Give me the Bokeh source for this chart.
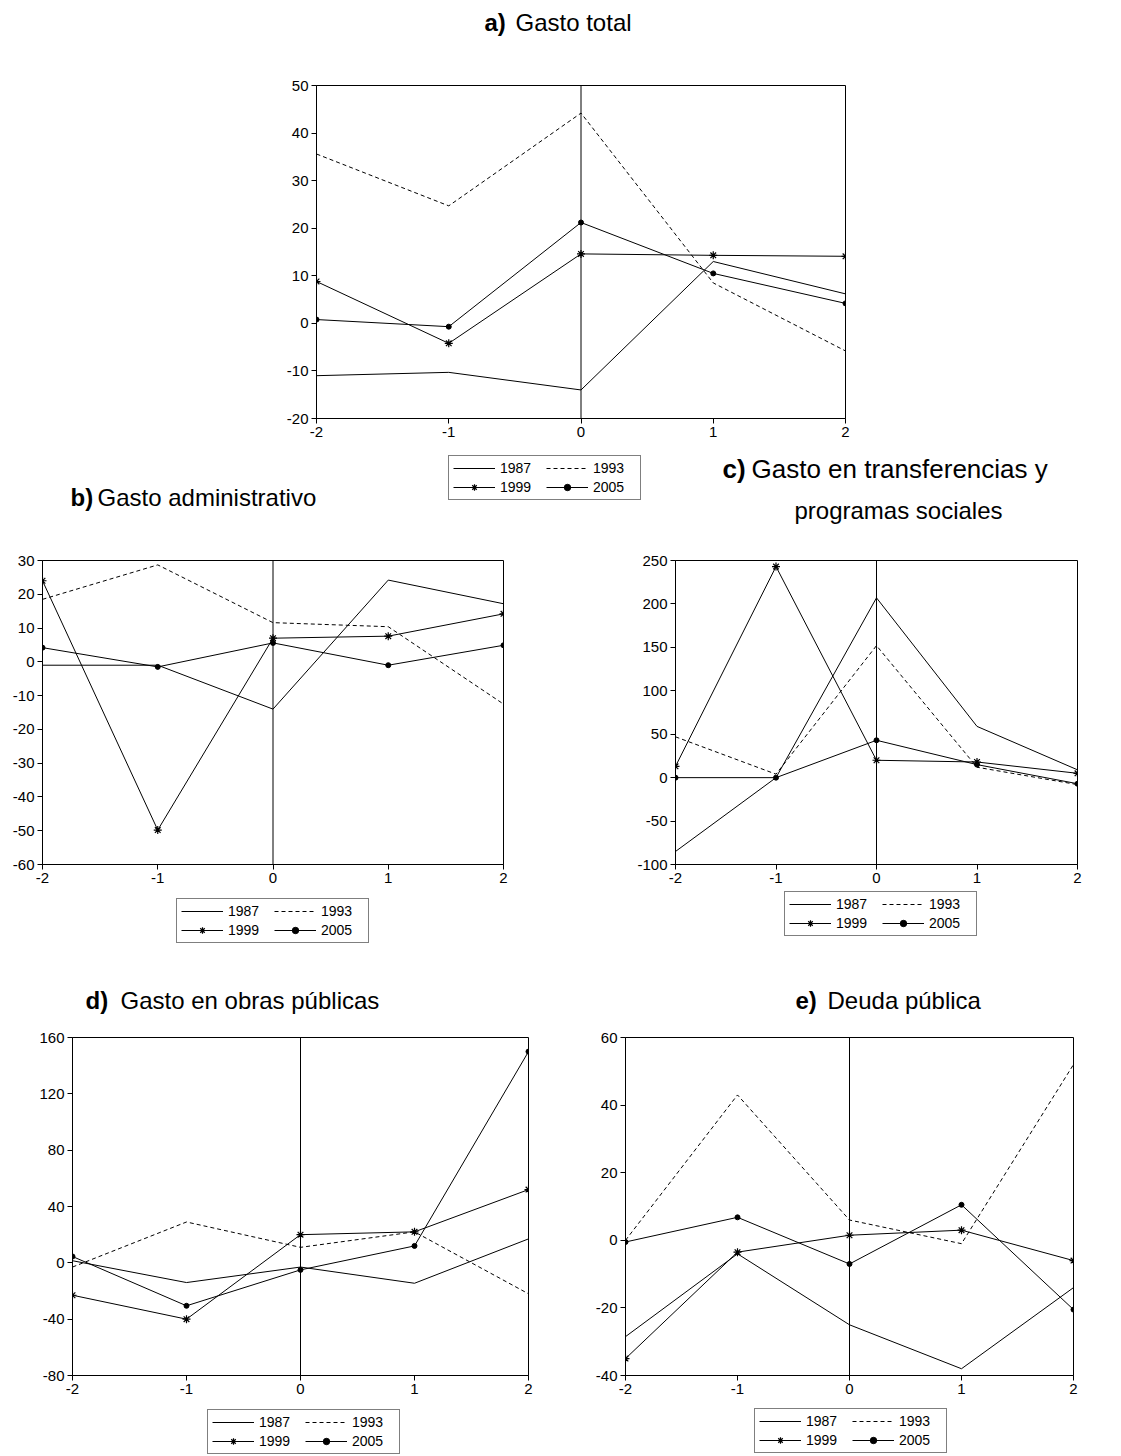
from bokeh.plotting import figure
from bokeh.models import (Range1d, FixedTicker, Span, Legend, LegendItem)
from bokeh.layouts import row
from bokeh.core.properties import value
from bokeh.embed import file_html
from bokeh.resources import INLINE

# ---------------- data ----------------
periods = [-2, -1, 0, 1, 2]
series_names = ["1987", "1993", "1999", "2005"]

# a) Gasto total
a_1987 = [-11.0, -10.3, -14.0, 13.0, 6.2]
a_1993 = [35.6, 24.7, 44.2, 8.5, -5.8]
a_1999 = [8.8, -4.2, 14.6, 14.3, 14.1]
a_2005 = [0.8, -0.7, 21.2, 10.5, 4.2]
a_yticks = [-20, -10, 0, 10, 20, 30, 40, 50]

# b) Gasto administrativo
b_1987 = [-1.0, -1.0, -14.0, 24.2, 17.2]
b_1993 = [18.5, 28.7, 11.6, 10.4, -12.5]
b_1999 = [24.0, -49.8, 7.0, 7.6, 14.2]
b_2005 = [4.2, -1.5, 5.6, -1.0, 4.9]
b_yticks = [-60, -50, -40, -30, -20, -10, 0, 10, 20, 30]

# c) Gasto en transferencias y programas sociales
c_1987 = [-85.0, 0.0, 207.0, 59.0, 9.0]
c_1993 = [47.0, 4.0, 152.0, 12.0, -8.0]
c_1999 = [13.0, 243.0, 20.0, 18.0, 5.0]
c_2005 = [0.0, 0.0, 43.0, 15.0, -7.0]
c_yticks = [-100, -50, 0, 50, 100, 150, 200, 250]

# d) Gasto en obras públicas
d_1987 = [1.5, -14.0, -3.0, -14.5, 17.0]
d_1993 = [-3.0, 29.0, 11.0, 22.0, -22.0]
d_1999 = [-23.0, -40.0, 20.0, 22.0, 52.0]
d_2005 = [4.5, -30.5, -5.0, 12.0, 150.0]
d_yticks = [-80, -40, 0, 40, 80, 120, 160]

# e) Deuda pública
e_1987 = [-28.5, -4.0, -25.0, -38.0, -14.0]
e_1993 = [0.0, 43.0, 6.0, -1.0, 52.0]
e_1999 = [-35.0, -3.5, 1.5, 3.0, -6.0]
e_2005 = [-0.5, 6.8, -7.0, 10.5, -20.5]
e_yticks = [-40, -20, 0, 20, 40, 60]

titles = {
    "a": ("a)", "Gasto total"),
    "b": ("b)", "Gasto administrativo"),
    "c": ("c)", "Gasto en transferencias y", "programas sociales"),
    "d": ("d)", "Gasto en obras públicas"),
    "e": ("e)", "Deuda pública"),
}

FONT = "Liberation Sans"
TITLE_SIZE = "24px"
TICK_SIZE = "15px"
LEG_SIZE = "14px"


def style_renderers(p, s87, s93, s99, s05, x_range_name="default"):
    kw = dict(x_range_name=x_range_name)
    r87 = p.line(periods, s87, line_color="black", line_width=1, **kw)
    r93 = p.line(periods, s93, line_color="black", line_width=1, line_dash="4 3", **kw)
    r99l = p.line(periods, s99, line_color="black", line_width=1, **kw)
    r99m = p.scatter(periods, s99, marker="asterisk", size=8, line_color="black",
                     line_width=1.2, **kw)
    r05l = p.line(periods, s05, line_color="black", line_width=1, **kw)
    r05m = p.scatter(periods, s05, marker="circle", size=5, fill_color="black",
                     line_color="black", **kw)
    return [LegendItem(label=series_names[0], renderers=[r87]),
            LegendItem(label=series_names[1], renderers=[r93]),
            LegendItem(label=series_names[2], renderers=[r99l, r99m]),
            LegendItem(label=series_names[3], renderers=[r05l, r05m])]


def make_panel(width, height, borders, yticks, s87, s93, s99, s05):
    left, right, top, bottom = borders
    p = figure(width=width, height=height,
               x_range=Range1d(-2, 2), y_range=Range1d(min(yticks), max(yticks)),
               output_backend="svg", toolbar_location=None,
               min_border_left=left, min_border_right=right,
               min_border_top=top, min_border_bottom=bottom)
    p.background_fill_color = "white"
    p.border_fill_color = "white"
    p.outline_line_color = "black"
    p.outline_line_width = 1
    p.xgrid.visible = False
    p.ygrid.visible = False
    p.xaxis.ticker = FixedTicker(ticks=periods)
    p.yaxis.ticker = FixedTicker(ticks=yticks)
    p.xaxis.major_label_overrides = {t: str(t) for t in periods}
    p.yaxis.major_label_overrides = {t: str(t) for t in yticks}
    for ax in (p.xaxis[0], p.yaxis[0]):
        ax.axis_line_color = "black"
        ax.major_tick_line_color = "black"
        ax.major_tick_out = 5
        ax.major_tick_in = 0
        ax.minor_tick_line_color = None
        ax.major_label_text_font = FONT
        ax.major_label_text_font_size = TICK_SIZE
        ax.major_label_text_color = "black"
        ax.major_label_standoff = 3
    p.add_layout(Span(location=0, dimension="height", line_color="black", line_width=1))
    style_renderers(p, s87, s93, s99, s05)
    return p


def band(width, height):
    p = figure(width=width, height=height, x_range=Range1d(0, width), y_range=Range1d(0, height),
               output_backend="svg", toolbar_location=None,
               x_axis_type=None, y_axis_type=None,
               min_border_left=0, min_border_right=0, min_border_top=0, min_border_bottom=0)
    p.outline_line_color = None
    p.xgrid.visible = False
    p.ygrid.visible = False
    p.background_fill_color = "white"
    p.border_fill_color = "white"
    p.extra_x_ranges = {"key": Range1d(1000, 1001)}  # series drawn off-view: only the legend key shows
    return p


def band_title(p, x_tag, x_text, y, key, size=TITLE_SIZE):
    tag, text = titles[key][0], titles[key][1]
    p.text(x=[x_tag], y=[y], text=[tag], text_font=value(FONT), text_font_size=size,
           text_font_style="bold", text_baseline="middle", text_color="black")
    p.text(x=[x_text], y=[y], text=[text], text_font=value(FONT), text_font_size=size,
           text_baseline="middle", text_color="black")


def band_legend(p, x, y, s87, s93, s99, s05):
    items = style_renderers(p, s87, s93, s99, s05, x_range_name="key")
    leg = Legend(items=items, location=(x, y), orientation="horizontal", ncols=2,
                 glyph_width=42, glyph_height=16, label_standoff=5, label_width=43,
                 label_height=16, spacing=3, padding=4, margin=0,
                 label_text_font=FONT, label_text_font_size=LEG_SIZE,
                 label_text_color="black", label_text_baseline="middle",
                 border_line_color="black", border_line_width=1,
                 background_fill_color="white", background_fill_alpha=1.0)
    p.add_layout(leg)


W = 1113

# title a (page y 0..50)
t1 = band(W, 50)
band_title(t1, 484, 515, 28, "a")

# panel a (page y 50..450)
pa = make_panel(W, 400, (316, W - 845, 35, 32), a_yticks, a_1987, a_1993, a_1999, a_2005)

# legend a + titles b, c (page y 450..530)
t2 = band(W, 80)
band_legend(t2, 448, 30, a_1987, a_1993, a_1999, a_2005)
band_title(t2, 70, 97, 33, "b")
band_title(t2, 722, 751, 62, "c", size="26px")
t2.text(x=[898], y=[20], text=[titles["c"][2]], text_font=value(FONT), text_font_size=TITLE_SIZE,
        text_align="center", text_baseline="middle", text_color="black")

# panels b, c (page y 530..890)
pb = make_panel(556, 360, (42, 556 - 503, 30, 25), b_yticks, b_1987, b_1993, b_1999, b_2005)
pc = make_panel(557, 360, (675 - 556, W - 1077, 24, 26), c_yticks, c_1987, c_1993, c_1999, c_2005)

# legends b, c + titles d, e (page y 890..1022)
t3 = band(W, 132)
band_legend(t3, 176, 79, b_1987, b_1993, b_1999, b_2005)
band_legend(t3, 784, 86, c_1987, c_1993, c_1999, c_2005)
band_title(t3, 85, 120, 22, "d")
band_title(t3, 795, 827, 22, "e")

# panels d, e (page y 1022..1404)
pd = make_panel(556, 382, (72, 556 - 528, 15, 26), d_yticks, d_1987, d_1993, d_1999, d_2005)
pe = make_panel(557, 382, (625 - 556, W - 1073, 15, 29), e_yticks, e_1987, e_1993, e_1999, e_2005)

# legends d, e (page y 1404..1456)
t4 = band(W, 52)
band_legend(t4, 207, 2, d_1987, d_1993, d_1999, d_2005)
band_legend(t4, 754, 3, e_1987, e_1993, e_1999, e_2005)

roots = [t1, pa, t2, row(pb, pc, spacing=0), t3, row(pd, pe, spacing=0), t4]
open("out.html", "w").write(file_html(roots, INLINE))
